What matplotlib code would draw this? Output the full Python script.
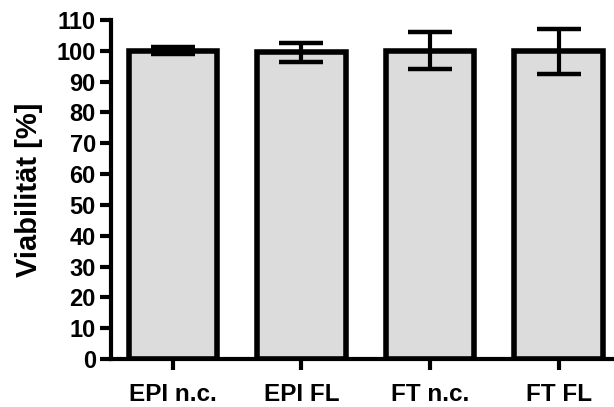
import matplotlib.pyplot as plt

# data
groups = ["EPI n.c.", "EPI FL", "FT n.c.", "FT FL"]
viability = [100.0, 99.5, 100.0, 99.8]
sd = [1.1, 3.1, 6.0, 7.2]

plt.rcParams['font.family'] = ['Liberation Sans', 'DejaVu Sans']
plt.rcParams['font.weight'] = 'bold'

fig = plt.figure(figsize=(6.14, 4.07), dpi=100)
ax = fig.add_axes([0.181, 0.118, 0.819, 0.833])

x = range(len(groups))
ax.bar(x, viability, width=0.6875, color="#dcdcdc", edgecolor="black",
       linewidth=4, zorder=2)
ax.errorbar(x, viability, yerr=sd, fmt="none", ecolor="black",
            elinewidth=3, capsize=16, capthick=3.2, zorder=3)

ax.set_xlim(-0.48, 3.43)
ax.set_ylim(0, 110)
ax.set_yticks(range(0, 111, 10))
ax.set_xticks(list(x))
ax.set_xticklabels(groups, fontsize=17.5, fontweight="bold")
ax.tick_params(axis="y", labelsize=17, width=3, length=8, pad=3)
ax.tick_params(axis="x", width=3, length=8, pad=9)
for lbl in ax.get_yticklabels():
    lbl.set_fontweight("bold")

ax.set_ylabel("Viabilität [%]", fontsize=21, fontweight="bold", labelpad=10)

for s in ["top", "right"]:
    ax.spines[s].set_visible(False)
for s in ["left", "bottom"]:
    ax.spines[s].set_linewidth(3)

fig.savefig("out.png", dpi=100)
